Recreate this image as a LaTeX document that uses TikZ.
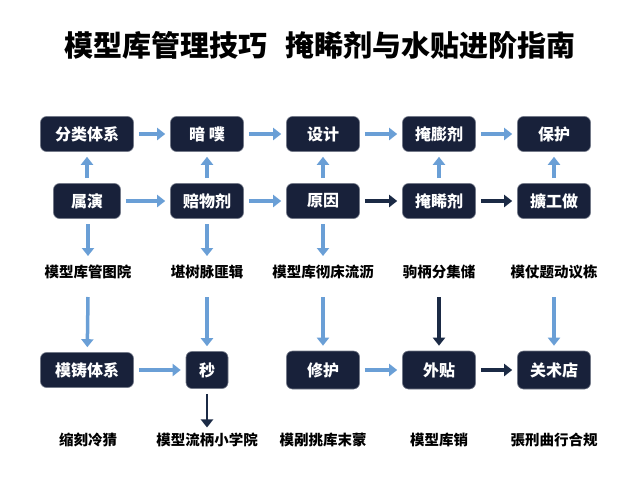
\documentclass[tikz,border=0pt]{standalone}
\usepackage{fontspec}
\newfontfamily\cjk{Noto Sans CJK SC}
\usetikzlibrary{arrows.meta}
\definecolor{boxc}{HTML}{18213A}
\definecolor{lb}{HTML}{6A9FD6}
\definecolor{db}{HTML}{1B2A45}
\begin{document}
\begin{tikzpicture}[x=1pt,y=-1pt,
 box/.style={fill=boxc,rounded corners=6pt,text=white,font=\cjk\bfseries\fontsize{16}{16}\selectfont,minimum height=35,inner sep=1pt,draw=boxc!60,line width=0.6pt},
 lbl/.style={font=\cjk\bfseries\fontsize{14.5}{14.5}\selectfont,text=black},
 la/.style={draw=lb,line width=3.5pt,-{Triangle[length=8pt,width=12pt]},shorten <=5pt,shorten >=5pt},
 da/.style={la,draw=db}]
\useasboundingbox (0,0) rectangle (640,480);
\node[font=\cjk\bfseries\fontsize{29}{29}\selectfont] (t) at (320,45) {模型库管理技巧\hspace{0.6em}掩睎剂与水贴进阶指南};
% row1
\node[box,minimum width=93] (a1) at (87,134) {分类体系};
\node[box,minimum width=73] (b1) at (207,134) {暗 噗};
\node[box,minimum width=73] (c1) at (323,134) {设计};
\node[box,minimum width=73] (d1) at (439,134) {掩膨剂};
\node[box,minimum width=73] (e1) at (554,134) {保护};
% row2
\node[box,minimum width=67] (a2) at (87,201) {属演};
\node[box,minimum width=73] (b2) at (207,201) {赔物剂};
\node[box,minimum width=73] (c2) at (323,201) {原因};
\node[box,minimum width=73] (d2) at (439,201) {掩睎剂};
\node[box,minimum width=73] (e2) at (554,201) {擴工做};
% labels
\node[lbl] (la1) at (88,272) {模型库管图院};
\node[lbl] (lb1) at (207,272) {堪树脉匪辑};
\node[lbl] (lc1) at (323,272) {模型库彻床流沥};
\node[lbl] (ld1) at (439,272) {驹柄分集储};
\node[lbl] (le1) at (554,272) {模仗题动议栋};
\coordinate (p1) at (88,297);\coordinate (p2) at (207,297);\coordinate (p3) at (323,297);\coordinate (p4) at (439,297);\coordinate (p5) at (554,297);
\coordinate (q1) at (88,224);\coordinate (q2) at (207,224);\coordinate (q3) at (323,224);
\coordinate (r1) at (88,256);\coordinate (r2) at (207,256);\coordinate (r3) at (323,256);
% row3
\node[box,minimum width=93] (a3) at (87,370) {模铸体系};
\node[box,minimum width=42,minimum height=37] (b3) at (207,370) {秒};
\node[box,minimum width=73,minimum height=38] (c3) at (323,370) {修护};
\node[box,minimum width=73,minimum height=38] (d3) at (439,370) {外贴};
\node[box,minimum width=73,minimum height=38] (e3) at (554,370) {关术店};
\node[lbl] (la3) at (88,440) {缩刻冷猜};
\node[lbl] (lb3) at (207,440) {模型流柄小学院};
\node[lbl] (lc3) at (323,440) {模剐挑库末蒙};
\node[lbl] (ld3) at (439,440) {模型库销};
\node[lbl] (le3) at (554,440) {張刑曲行合规};
% horizontal
\draw[la] (a1) -- (b1);
\draw[la] (b1) -- (c1);
\draw[la] (c1) -- (d1);
\draw[la] (d1) -- (e1);
\draw[la] (a2) -- (b2);
\draw[la] (b2) -- (c2);
\draw[da] (c2) -- (d2);
\draw[da] (d2) -- (e2);
\draw[la] (a3) -- (b3);
\draw[la] (c3) -- (d3);
\draw[da] (d3) -- (e3);
% up arrows
\draw[la] (a2) -- (a1);
\foreach \n in {b,c,d,e}{\draw[la] (\n2) -- (\n1);}
% down arrows
\foreach \i in {1,2,3}{\draw[la,shorten <=0pt,shorten >=0pt] (q\i) -- (r\i);}
\draw[la,shorten <=0pt] (p1) -- (a3);
\draw[la,shorten <=0pt] (p2) -- (b3);
\draw[la,shorten <=0pt] (p3) -- (c3);
\draw[da,shorten <=0pt] (p4) -- (d3);
\draw[la,shorten <=0pt] (p5) -- (e3);
\draw[da,line width=2.5pt,shorten >=2pt] (b3) -- (lb3);
\end{tikzpicture}
\end{document}
